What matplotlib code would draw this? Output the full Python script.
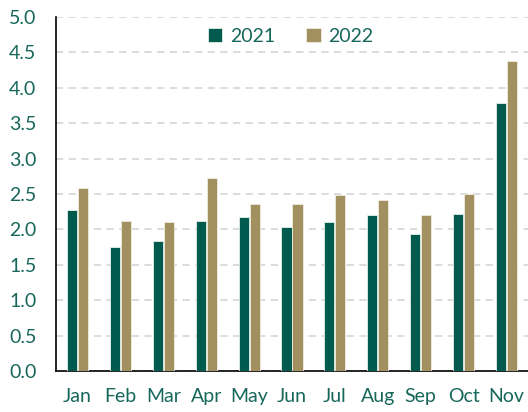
import matplotlib
matplotlib.use('Agg')
import matplotlib.pyplot as plt
import numpy as np

months = ['Jan', 'Feb', 'Mar', 'Apr', 'May', 'Jun', 'Jul', 'Aug', 'Sep', 'Oct', 'Nov']
vals_2021 = [2.28, 1.75, 1.83, 2.12, 2.18, 2.04, 2.10, 2.21, 1.93, 2.22, 3.78]
vals_2022 = [2.58, 2.12, 2.10, 2.72, 2.36, 2.36, 2.49, 2.42, 2.21, 2.50, 4.38]
yticks = [0.0, 0.5, 1.0, 1.5, 2.0, 2.5, 3.0, 3.5, 4.0, 4.5, 5.0]

green = '#005A4E'
tan = '#A39060'
label_col = '#17675B'

plt.rcParams['font.family'] = ['Lato', 'DejaVu Sans']

fig = plt.figure(figsize=(5.28, 4.12), dpi=100)
ax = fig.add_axes([0.106, 0.0995, 0.894, 0.859])

x = np.arange(len(months))
w = 0.235
ax.bar(x - 0.128, vals_2021, width=w, color=green, edgecolor='#e8efe9', linewidth=0.6, label='2021', zorder=3)
ax.bar(x + 0.128, vals_2022, width=w, color=tan, edgecolor='#f0ece0', linewidth=0.6, label='2022', zorder=3)

ax.set_xlim(-0.5, len(months) - 0.5)
ax.set_ylim(0, 5.0)
ax.set_yticks(yticks)
ax.set_yticklabels([f'{v:.1f}' for v in yticks])
ax.set_xticks(x)
ax.set_xticklabels(months)

ax.tick_params(axis='y', length=0, pad=14, labelsize=14, labelcolor=label_col)
ax.tick_params(axis='x', length=0, pad=12, labelsize=14, labelcolor=label_col)

ax.grid(axis='y', color='#d9d9d9', linestyle=(0, (4, 3)), linewidth=1.3, zorder=0)
ax.set_axisbelow(True)

for s in ['top', 'right']:
    ax.spines[s].set_visible(False)
ax.spines['left'].set_color('black')
ax.spines['bottom'].set_color('black')
ax.spines['left'].set_linewidth(1.2)
ax.spines['bottom'].set_linewidth(1.2)

leg = ax.legend(loc='center', bbox_to_anchor=(0.497, 0.946), ncol=2, frameon=False,
                fontsize=14, handlelength=0.75, handleheight=0.75, columnspacing=1.6,
                handletextpad=0.4)
for t in leg.get_texts():
    t.set_color(label_col)

fig.savefig('out.png', dpi=100)
